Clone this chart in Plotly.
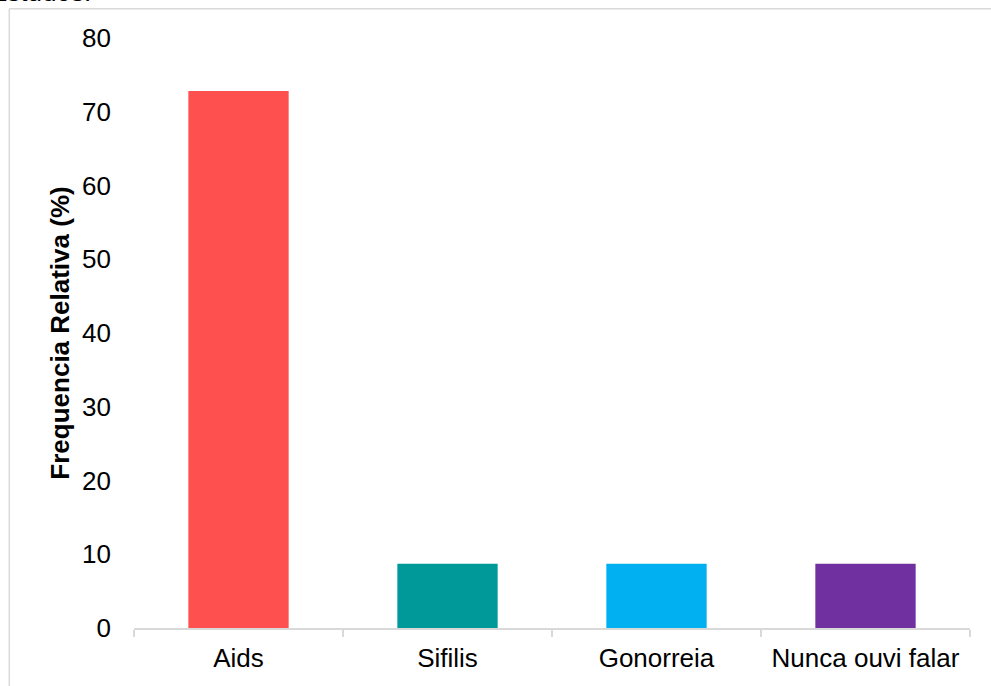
import plotly.graph_objects as go

categories = ["Aids", "Sifilis", "Gonorreia", "Nunca ouvi falar"]
values = [72.8, 8.7, 8.7, 8.7]
colors = ["#FF5050", "#009999", "#00B0F0", "#7030A0"]
y_ticks = [0, 10, 20, 30, 40, 50, 60, 70, 80]
y_title = "Frequencia Relativa (%)"
cut_text = "Estudos."

W, H = 991, 686
ML, MR, MT, MB = 134, 21, 38, 58
PW, PH = W - ML - MR, H - MT - MB

def px_x(p):
    return (p - ML) / PW

def px_y(p):
    return (H - MB - p) / PH

FONT = "Liberation Sans, Arial, sans-serif"
GRAY = "#d9d9d9"

fig = go.Figure(
    go.Bar(
        x=categories,
        y=values,
        marker=dict(color=colors, line=dict(width=0)),
        width=0.48,
    )
)

fig.update_layout(
    width=W,
    height=H,
    margin=dict(l=ML, r=MR, t=MT, b=MB, pad=0),
    paper_bgcolor="white",
    plot_bgcolor="white",
    showlegend=False,
    font=dict(family=FONT, size=26, color="#000000"),
    xaxis=dict(
        showline=True,
        linecolor=GRAY,
        linewidth=1.5,
        ticks="outside",
        tickson="boundaries",
        ticklen=7,
        tickcolor=GRAY,
        tickwidth=1.5,
        showgrid=False,
        tickfont=dict(size=26),
        ticklabelstandoff=6,
        automargin=False,
    ),
    yaxis=dict(
        range=[0, 80],
        tickvals=y_ticks,
        showgrid=False,
        zeroline=False,
        showline=False,
        ticks="",
        ticklabelstandoff=22,
        tickfont=dict(size=26),
        title=dict(text="<b>" + y_title + "</b>", font=dict(size=26), standoff=4),
        automargin=False,
    ),
    shapes=[
        dict(type="line", xref="paper", yref="paper",
             x0=px_x(9.3), x1=px_x(1000), y0=px_y(8.7), y1=px_y(8.7),
             line=dict(color=GRAY, width=1.5)),
        dict(type="line", xref="paper", yref="paper",
             x0=px_x(9.3), x1=px_x(9.3), y0=px_y(8.7), y1=px_y(700),
             line=dict(color=GRAY, width=1.5)),
    ],
    annotations=[
        dict(text=cut_text, xref="paper", yref="paper",
             x=px_x(-12), y=px_y(9), xanchor="left", yanchor="bottom",
             showarrow=False, font=dict(size=26, color="#000000")),
    ],
)

fig.write_html("out.html")
